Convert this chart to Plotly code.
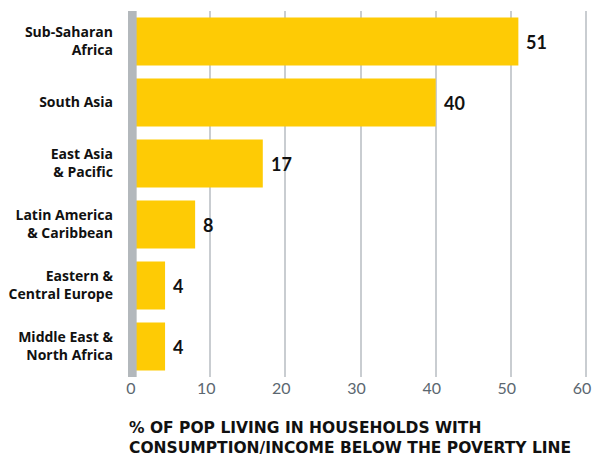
import plotly.graph_objects as go

# Regional poverty headcount data
regions = [
    "Sub-Saharan<br>Africa",
    "South Asia",
    "East Asia<br>& Pacific",
    "Latin America<br>& Caribbean",
    "Eastern &<br>Central Europe",
    "Middle East &<br>North Africa",
]
poverty_pct = [51, 40, 17, 8, 4, 4]
x_ticks = [0, 10, 20, 30, 40, 50, 60]
axis_title = "% OF POP LIVING IN HOUSEHOLDS WITH<br>CONSUMPTION/INCOME BELOW THE POVERTY LINE"

BAR_YELLOW = "#fecb05"
AXIS_GRAY = "#b3b8bc"
GRID_GRAY = "#c9cdd1"
TICK_GRAY = "#5b6770"

fig = go.Figure()
fig.add_trace(go.Bar(
    x=poverty_pct,
    y=regions,
    orientation="h",
    marker=dict(color=BAR_YELLOW, line=dict(width=0)),
    hoverinfo="skip",
))

# value labels just past the end of each bar
for r, v in zip(regions, poverty_pct):
    fig.add_annotation(
        x=v, y=r, xref="x", yref="y",
        text=f"<b>{v}</b>", showarrow=False,
        xanchor="left", xshift=6,
        font=dict(family="Lato", size=18, color="#111111"),
    )

# thick gray baseline at zero
fig.add_shape(
    type="rect", xref="x", yref="paper",
    x0=-0.931, x1=0.22, y0=0, y1=1,
    fillcolor=AXIS_GRAY, line=dict(width=0), layer="above",
)

fig.add_annotation(
    x=0, y=0, xref="paper", yref="paper",
    xanchor="left", yanchor="top", align="left",
    xshift=-1, yshift=-40,
    text=f"<b>{axis_title}</b>", showarrow=False,
    font=dict(family="DejaVu Sans", size=15.5, color="#111111"),
)

fig.update_layout(
    width=601, height=462,
    margin=dict(l=128, r=11, t=11, b=85, autoexpand=False),
    paper_bgcolor="white", plot_bgcolor="white",
    showlegend=False,
    bargap=0.213,
    xaxis=dict(
        range=[-0.931, 60.53],
        tickvals=x_ticks,
        showgrid=True, gridcolor=GRID_GRAY, gridwidth=1.5,
        zeroline=False, showline=False, ticks="",
        tickfont=dict(family="Lato", size=16, color=TICK_GRAY),
        ticklabelshift=-4,
        automargin=False,
        fixedrange=True,
    ),
    yaxis=dict(
        categoryorder="array", categoryarray=regions,
        autorange="reversed",
        showgrid=False, zeroline=False, showline=False, ticks="",
        tickfont=dict(family="Open Sans", size=14, color="#111111", weight="bold"),
        ticklabelstandoff=14,
        automargin=False,
        fixedrange=True,
    ),
)

fig.write_html("out.html")
